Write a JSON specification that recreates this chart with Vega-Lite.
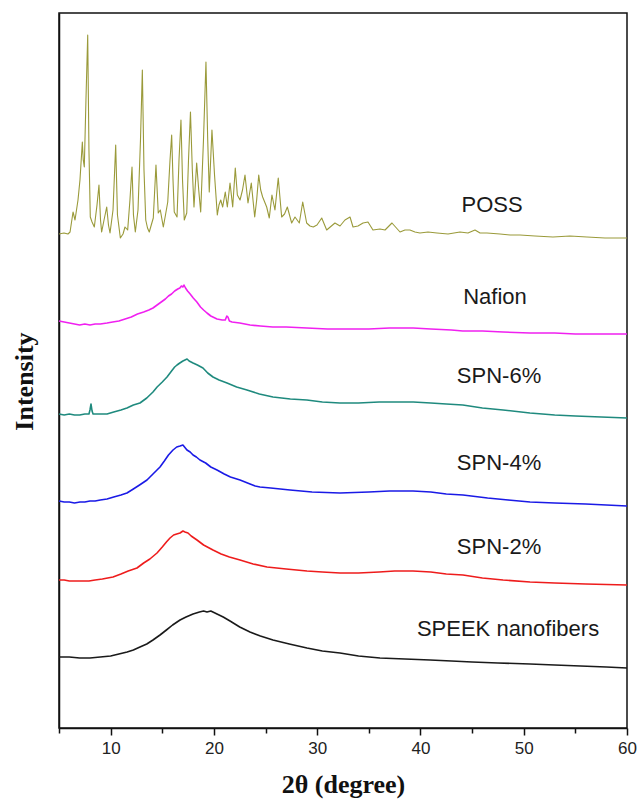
{
  "$schema": "https://vega.github.io/schema/vega-lite/v6.json",
  "width": 568,
  "height": 715,
  "autosize": "none",
  "padding": {"left": 59, "top": 13, "right": 10, "bottom": 73},
  "background": "white",
  "config": {
    "view": {"stroke": "#111111", "strokeWidth": 1.5},
    "axis": {"grid": false}
  },
  "datasets": {
    "xrd": [
      {"sample": "POSS", "two_theta": 5.0, "intensity": 473},
      {"sample": "POSS", "two_theta": 5.48, "intensity": 474},
      {"sample": "POSS", "two_theta": 5.87, "intensity": 473},
      {"sample": "POSS", "two_theta": 6.07, "intensity": 475},
      {"sample": "POSS", "two_theta": 6.36, "intensity": 495},
      {"sample": "POSS", "two_theta": 6.55, "intensity": 487},
      {"sample": "POSS", "two_theta": 6.84, "intensity": 507},
      {"sample": "POSS", "two_theta": 7.03, "intensity": 527},
      {"sample": "POSS", "two_theta": 7.26, "intensity": 565},
      {"sample": "POSS", "two_theta": 7.35, "intensity": 547},
      {"sample": "POSS", "two_theta": 7.45, "intensity": 540},
      {"sample": "POSS", "two_theta": 7.61, "intensity": 607},
      {"sample": "POSS", "two_theta": 7.78, "intensity": 672},
      {"sample": "POSS", "two_theta": 7.90, "intensity": 557},
      {"sample": "POSS", "two_theta": 8.03, "intensity": 490},
      {"sample": "POSS", "two_theta": 8.20, "intensity": 485},
      {"sample": "POSS", "two_theta": 8.42, "intensity": 480},
      {"sample": "POSS", "two_theta": 8.68, "intensity": 502},
      {"sample": "POSS", "two_theta": 8.87, "intensity": 522},
      {"sample": "POSS", "two_theta": 9.02, "intensity": 487},
      {"sample": "POSS", "two_theta": 9.13, "intensity": 475},
      {"sample": "POSS", "two_theta": 9.36, "intensity": 487},
      {"sample": "POSS", "two_theta": 9.62, "intensity": 500},
      {"sample": "POSS", "two_theta": 9.79, "intensity": 482},
      {"sample": "POSS", "two_theta": 9.94, "intensity": 474},
      {"sample": "POSS", "two_theta": 10.23, "intensity": 497},
      {"sample": "POSS", "two_theta": 10.49, "intensity": 562},
      {"sample": "POSS", "two_theta": 10.66, "intensity": 492},
      {"sample": "POSS", "two_theta": 10.94, "intensity": 469},
      {"sample": "POSS", "two_theta": 11.20, "intensity": 473},
      {"sample": "POSS", "two_theta": 11.39, "intensity": 480},
      {"sample": "POSS", "two_theta": 11.65, "intensity": 477},
      {"sample": "POSS", "two_theta": 11.87, "intensity": 507},
      {"sample": "POSS", "two_theta": 12.07, "intensity": 540},
      {"sample": "POSS", "two_theta": 12.21, "intensity": 492},
      {"sample": "POSS", "two_theta": 12.39, "intensity": 475},
      {"sample": "POSS", "two_theta": 12.65, "intensity": 497},
      {"sample": "POSS", "two_theta": 12.89, "intensity": 567},
      {"sample": "POSS", "two_theta": 13.07, "intensity": 637},
      {"sample": "POSS", "two_theta": 13.23, "intensity": 537},
      {"sample": "POSS", "two_theta": 13.40, "intensity": 487},
      {"sample": "POSS", "two_theta": 13.57, "intensity": 479},
      {"sample": "POSS", "two_theta": 13.74, "intensity": 475},
      {"sample": "POSS", "two_theta": 14.13, "intensity": 489},
      {"sample": "POSS", "two_theta": 14.39, "intensity": 542},
      {"sample": "POSS", "two_theta": 14.61, "intensity": 494},
      {"sample": "POSS", "two_theta": 14.81, "intensity": 497},
      {"sample": "POSS", "two_theta": 15.10, "intensity": 480},
      {"sample": "POSS", "two_theta": 15.31, "intensity": 492},
      {"sample": "POSS", "two_theta": 15.53, "intensity": 505},
      {"sample": "POSS", "two_theta": 15.75, "intensity": 547},
      {"sample": "POSS", "two_theta": 15.91, "intensity": 572},
      {"sample": "POSS", "two_theta": 16.04, "intensity": 527},
      {"sample": "POSS", "two_theta": 16.16, "intensity": 495},
      {"sample": "POSS", "two_theta": 16.43, "intensity": 490},
      {"sample": "POSS", "two_theta": 16.62, "intensity": 547},
      {"sample": "POSS", "two_theta": 16.81, "intensity": 587},
      {"sample": "POSS", "two_theta": 16.96, "intensity": 527},
      {"sample": "POSS", "two_theta": 17.13, "intensity": 487},
      {"sample": "POSS", "two_theta": 17.37, "intensity": 494},
      {"sample": "POSS", "two_theta": 17.54, "intensity": 547},
      {"sample": "POSS", "two_theta": 17.73, "intensity": 595},
      {"sample": "POSS", "two_theta": 17.91, "intensity": 537},
      {"sample": "POSS", "two_theta": 18.07, "intensity": 500},
      {"sample": "POSS", "two_theta": 18.33, "intensity": 544},
      {"sample": "POSS", "two_theta": 18.53, "intensity": 517},
      {"sample": "POSS", "two_theta": 18.72, "intensity": 495},
      {"sample": "POSS", "two_theta": 18.99, "intensity": 567},
      {"sample": "POSS", "two_theta": 19.23, "intensity": 645},
      {"sample": "POSS", "two_theta": 19.40, "intensity": 567},
      {"sample": "POSS", "two_theta": 19.55, "intensity": 515},
      {"sample": "POSS", "two_theta": 19.81, "intensity": 577},
      {"sample": "POSS", "two_theta": 20.06, "intensity": 532},
      {"sample": "POSS", "two_theta": 20.33, "intensity": 492},
      {"sample": "POSS", "two_theta": 20.49, "intensity": 502},
      {"sample": "POSS", "two_theta": 20.66, "intensity": 507},
      {"sample": "POSS", "two_theta": 20.85, "intensity": 500},
      {"sample": "POSS", "two_theta": 21.10, "intensity": 515},
      {"sample": "POSS", "two_theta": 21.30, "intensity": 500},
      {"sample": "POSS", "two_theta": 21.56, "intensity": 524},
      {"sample": "POSS", "two_theta": 21.82, "intensity": 500},
      {"sample": "POSS", "two_theta": 22.07, "intensity": 539},
      {"sample": "POSS", "two_theta": 22.27, "intensity": 512},
      {"sample": "POSS", "two_theta": 22.53, "intensity": 507},
      {"sample": "POSS", "two_theta": 22.77, "intensity": 517},
      {"sample": "POSS", "two_theta": 23.01, "intensity": 532},
      {"sample": "POSS", "two_theta": 23.30, "intensity": 504},
      {"sample": "POSS", "two_theta": 23.62, "intensity": 524},
      {"sample": "POSS", "two_theta": 23.95, "intensity": 490},
      {"sample": "POSS", "two_theta": 24.14, "intensity": 507},
      {"sample": "POSS", "two_theta": 24.34, "intensity": 532},
      {"sample": "POSS", "two_theta": 24.53, "intensity": 517},
      {"sample": "POSS", "two_theta": 24.72, "intensity": 510},
      {"sample": "POSS", "two_theta": 25.11, "intensity": 500},
      {"sample": "POSS", "two_theta": 25.36, "intensity": 489},
      {"sample": "POSS", "two_theta": 25.62, "intensity": 512},
      {"sample": "POSS", "two_theta": 25.91, "intensity": 497},
      {"sample": "POSS", "two_theta": 26.23, "intensity": 529},
      {"sample": "POSS", "two_theta": 26.56, "intensity": 490},
      {"sample": "POSS", "two_theta": 26.84, "intensity": 493},
      {"sample": "POSS", "two_theta": 27.11, "intensity": 500},
      {"sample": "POSS", "two_theta": 27.53, "intensity": 484},
      {"sample": "POSS", "two_theta": 27.85, "intensity": 490},
      {"sample": "POSS", "two_theta": 28.27, "intensity": 484},
      {"sample": "POSS", "two_theta": 28.60, "intensity": 505},
      {"sample": "POSS", "two_theta": 28.98, "intensity": 484},
      {"sample": "POSS", "two_theta": 29.30, "intensity": 481},
      {"sample": "POSS", "two_theta": 29.62, "intensity": 480},
      {"sample": "POSS", "two_theta": 29.98, "intensity": 482},
      {"sample": "POSS", "two_theta": 30.44, "intensity": 489},
      {"sample": "POSS", "two_theta": 30.92, "intensity": 477},
      {"sample": "POSS", "two_theta": 31.72, "intensity": 484},
      {"sample": "POSS", "two_theta": 32.21, "intensity": 481},
      {"sample": "POSS", "two_theta": 32.69, "intensity": 487},
      {"sample": "POSS", "two_theta": 33.18, "intensity": 490},
      {"sample": "POSS", "two_theta": 33.47, "intensity": 480},
      {"sample": "POSS", "two_theta": 33.95, "intensity": 481},
      {"sample": "POSS", "two_theta": 34.44, "intensity": 484},
      {"sample": "POSS", "two_theta": 34.92, "intensity": 485},
      {"sample": "POSS", "two_theta": 35.40, "intensity": 477},
      {"sample": "POSS", "two_theta": 36.08, "intensity": 478},
      {"sample": "POSS", "two_theta": 36.57, "intensity": 477},
      {"sample": "POSS", "two_theta": 37.24, "intensity": 484},
      {"sample": "POSS", "two_theta": 38.02, "intensity": 475},
      {"sample": "POSS", "two_theta": 38.50, "intensity": 477},
      {"sample": "POSS", "two_theta": 38.98, "intensity": 477},
      {"sample": "POSS", "two_theta": 39.47, "intensity": 475},
      {"sample": "POSS", "two_theta": 39.95, "intensity": 474},
      {"sample": "POSS", "two_theta": 40.73, "intensity": 475},
      {"sample": "POSS", "two_theta": 41.60, "intensity": 474},
      {"sample": "POSS", "two_theta": 42.67, "intensity": 473},
      {"sample": "POSS", "two_theta": 43.83, "intensity": 475},
      {"sample": "POSS", "two_theta": 44.60, "intensity": 474},
      {"sample": "POSS", "two_theta": 45.28, "intensity": 477},
      {"sample": "POSS", "two_theta": 45.77, "intensity": 474},
      {"sample": "POSS", "two_theta": 46.44, "intensity": 474},
      {"sample": "POSS", "two_theta": 47.70, "intensity": 473},
      {"sample": "POSS", "two_theta": 48.67, "intensity": 472},
      {"sample": "POSS", "two_theta": 49.64, "intensity": 472},
      {"sample": "POSS", "two_theta": 51.09, "intensity": 471},
      {"sample": "POSS", "two_theta": 52.83, "intensity": 470},
      {"sample": "POSS", "two_theta": 54.48, "intensity": 471},
      {"sample": "POSS", "two_theta": 56.12, "intensity": 470},
      {"sample": "POSS", "two_theta": 57.87, "intensity": 469},
      {"sample": "POSS", "two_theta": 60.0, "intensity": 469},

      {"sample": "Nafion", "two_theta": 5.0, "intensity": 386},
      {"sample": "Nafion", "two_theta": 5.5, "intensity": 385},
      {"sample": "Nafion", "two_theta": 6.0, "intensity": 384},
      {"sample": "Nafion", "two_theta": 6.5, "intensity": 383},
      {"sample": "Nafion", "two_theta": 7.0, "intensity": 382},
      {"sample": "Nafion", "two_theta": 7.5, "intensity": 383},
      {"sample": "Nafion", "two_theta": 8.0, "intensity": 382},
      {"sample": "Nafion", "two_theta": 8.5, "intensity": 383},
      {"sample": "Nafion", "two_theta": 9.0, "intensity": 383},
      {"sample": "Nafion", "two_theta": 9.65, "intensity": 384},
      {"sample": "Nafion", "two_theta": 10.2, "intensity": 385},
      {"sample": "Nafion", "two_theta": 10.8, "intensity": 386},
      {"sample": "Nafion", "two_theta": 11.4, "intensity": 388},
      {"sample": "Nafion", "two_theta": 12.0, "intensity": 390},
      {"sample": "Nafion", "two_theta": 12.6, "intensity": 393},
      {"sample": "Nafion", "two_theta": 13.2, "intensity": 395},
      {"sample": "Nafion", "two_theta": 13.7, "intensity": 397},
      {"sample": "Nafion", "two_theta": 14.1, "intensity": 399},
      {"sample": "Nafion", "two_theta": 14.5, "intensity": 402},
      {"sample": "Nafion", "two_theta": 14.9, "intensity": 405},
      {"sample": "Nafion", "two_theta": 15.3, "intensity": 408},
      {"sample": "Nafion", "two_theta": 15.6, "intensity": 411},
      {"sample": "Nafion", "two_theta": 15.9, "intensity": 413},
      {"sample": "Nafion", "two_theta": 16.2, "intensity": 416},
      {"sample": "Nafion", "two_theta": 16.5, "intensity": 418},
      {"sample": "Nafion", "two_theta": 16.7, "intensity": 419},
      {"sample": "Nafion", "two_theta": 16.85, "intensity": 421},
      {"sample": "Nafion", "two_theta": 17.0, "intensity": 420},
      {"sample": "Nafion", "two_theta": 17.1, "intensity": 422},
      {"sample": "Nafion", "two_theta": 17.25, "intensity": 419},
      {"sample": "Nafion", "two_theta": 17.45, "intensity": 416},
      {"sample": "Nafion", "two_theta": 17.7, "intensity": 413},
      {"sample": "Nafion", "two_theta": 18.0, "intensity": 409},
      {"sample": "Nafion", "two_theta": 18.35, "intensity": 405},
      {"sample": "Nafion", "two_theta": 18.7, "intensity": 400},
      {"sample": "Nafion", "two_theta": 19.0, "intensity": 397},
      {"sample": "Nafion", "two_theta": 19.33, "intensity": 394},
      {"sample": "Nafion", "two_theta": 19.7, "intensity": 391},
      {"sample": "Nafion", "two_theta": 20.3, "intensity": 388},
      {"sample": "Nafion", "two_theta": 20.8, "intensity": 387},
      {"sample": "Nafion", "two_theta": 21.1, "intensity": 387},
      {"sample": "Nafion", "two_theta": 21.25, "intensity": 391},
      {"sample": "Nafion", "two_theta": 21.36, "intensity": 390},
      {"sample": "Nafion", "two_theta": 21.5, "intensity": 386},
      {"sample": "Nafion", "two_theta": 21.75, "intensity": 385},
      {"sample": "Nafion", "two_theta": 22.5, "intensity": 384},
      {"sample": "Nafion", "two_theta": 23.5, "intensity": 382},
      {"sample": "Nafion", "two_theta": 24.5, "intensity": 381},
      {"sample": "Nafion", "two_theta": 25.7, "intensity": 380},
      {"sample": "Nafion", "two_theta": 27.0, "intensity": 380},
      {"sample": "Nafion", "two_theta": 29.0, "intensity": 379},
      {"sample": "Nafion", "two_theta": 31.0, "intensity": 378},
      {"sample": "Nafion", "two_theta": 33.0, "intensity": 378},
      {"sample": "Nafion", "two_theta": 35.0, "intensity": 378},
      {"sample": "Nafion", "two_theta": 37.0, "intensity": 379},
      {"sample": "Nafion", "two_theta": 39.3, "intensity": 379},
      {"sample": "Nafion", "two_theta": 41.0, "intensity": 378},
      {"sample": "Nafion", "two_theta": 43.0, "intensity": 377},
      {"sample": "Nafion", "two_theta": 44.1, "intensity": 376},
      {"sample": "Nafion", "two_theta": 46.0, "intensity": 376},
      {"sample": "Nafion", "two_theta": 48.0, "intensity": 375},
      {"sample": "Nafion", "two_theta": 50.6, "intensity": 374},
      {"sample": "Nafion", "two_theta": 53.0, "intensity": 374},
      {"sample": "Nafion", "two_theta": 55.0, "intensity": 373},
      {"sample": "Nafion", "two_theta": 57.0, "intensity": 373},
      {"sample": "Nafion", "two_theta": 60.0, "intensity": 373},

      {"sample": "SPN-6%", "two_theta": 5.0, "intensity": 293},
      {"sample": "SPN-6%", "two_theta": 5.5, "intensity": 292},
      {"sample": "SPN-6%", "two_theta": 6.0, "intensity": 293},
      {"sample": "SPN-6%", "two_theta": 6.5, "intensity": 292},
      {"sample": "SPN-6%", "two_theta": 7.0, "intensity": 292},
      {"sample": "SPN-6%", "two_theta": 7.5, "intensity": 293},
      {"sample": "SPN-6%", "two_theta": 7.9, "intensity": 293},
      {"sample": "SPN-6%", "two_theta": 8.0, "intensity": 297},
      {"sample": "SPN-6%", "two_theta": 8.1, "intensity": 303},
      {"sample": "SPN-6%", "two_theta": 8.2, "intensity": 296},
      {"sample": "SPN-6%", "two_theta": 8.3, "intensity": 293},
      {"sample": "SPN-6%", "two_theta": 9.0, "intensity": 293},
      {"sample": "SPN-6%", "two_theta": 9.65, "intensity": 293},
      {"sample": "SPN-6%", "two_theta": 10.3, "intensity": 295},
      {"sample": "SPN-6%", "two_theta": 11.0, "intensity": 297},
      {"sample": "SPN-6%", "two_theta": 11.58, "intensity": 299},
      {"sample": "SPN-6%", "two_theta": 12.2, "intensity": 302},
      {"sample": "SPN-6%", "two_theta": 12.84, "intensity": 304},
      {"sample": "SPN-6%", "two_theta": 13.5, "intensity": 309},
      {"sample": "SPN-6%", "two_theta": 14.1, "intensity": 315},
      {"sample": "SPN-6%", "two_theta": 14.5, "intensity": 320},
      {"sample": "SPN-6%", "two_theta": 15.0, "intensity": 325},
      {"sample": "SPN-6%", "two_theta": 15.46, "intensity": 330},
      {"sample": "SPN-6%", "two_theta": 15.9, "intensity": 336},
      {"sample": "SPN-6%", "two_theta": 16.2, "intensity": 340},
      {"sample": "SPN-6%", "two_theta": 16.43, "intensity": 342},
      {"sample": "SPN-6%", "two_theta": 16.7, "intensity": 344},
      {"sample": "SPN-6%", "two_theta": 17.0, "intensity": 346},
      {"sample": "SPN-6%", "two_theta": 17.2, "intensity": 347},
      {"sample": "SPN-6%", "two_theta": 17.4, "intensity": 348},
      {"sample": "SPN-6%", "two_theta": 17.6, "intensity": 346},
      {"sample": "SPN-6%", "two_theta": 17.98, "intensity": 344},
      {"sample": "SPN-6%", "two_theta": 18.4, "intensity": 342},
      {"sample": "SPN-6%", "two_theta": 18.94, "intensity": 339},
      {"sample": "SPN-6%", "two_theta": 19.4, "intensity": 334},
      {"sample": "SPN-6%", "two_theta": 19.91, "intensity": 330},
      {"sample": "SPN-6%", "two_theta": 20.5, "intensity": 327},
      {"sample": "SPN-6%", "two_theta": 21.27, "intensity": 324},
      {"sample": "SPN-6%", "two_theta": 22.2, "intensity": 320},
      {"sample": "SPN-6%", "two_theta": 23.2, "intensity": 317},
      {"sample": "SPN-6%", "two_theta": 24.4, "intensity": 313},
      {"sample": "SPN-6%", "two_theta": 25.72, "intensity": 310},
      {"sample": "SPN-6%", "two_theta": 27.4, "intensity": 308},
      {"sample": "SPN-6%", "two_theta": 29.0, "intensity": 307},
      {"sample": "SPN-6%", "two_theta": 30.5, "intensity": 305},
      {"sample": "SPN-6%", "two_theta": 32.2, "intensity": 304},
      {"sample": "SPN-6%", "two_theta": 34.0, "intensity": 304},
      {"sample": "SPN-6%", "two_theta": 36.0, "intensity": 305},
      {"sample": "SPN-6%", "two_theta": 38.0, "intensity": 305},
      {"sample": "SPN-6%", "two_theta": 39.3, "intensity": 305},
      {"sample": "SPN-6%", "two_theta": 41.0, "intensity": 304},
      {"sample": "SPN-6%", "two_theta": 42.5, "intensity": 303},
      {"sample": "SPN-6%", "two_theta": 44.1, "intensity": 302},
      {"sample": "SPN-6%", "two_theta": 46.0, "intensity": 299},
      {"sample": "SPN-6%", "two_theta": 48.0, "intensity": 297},
      {"sample": "SPN-6%", "two_theta": 50.6, "intensity": 294},
      {"sample": "SPN-6%", "two_theta": 53.0, "intensity": 292},
      {"sample": "SPN-6%", "two_theta": 55.0, "intensity": 291},
      {"sample": "SPN-6%", "two_theta": 57.5, "intensity": 290},
      {"sample": "SPN-6%", "two_theta": 60.0, "intensity": 289},

      {"sample": "SPN-4%", "two_theta": 5.0, "intensity": 206},
      {"sample": "SPN-4%", "two_theta": 5.5, "intensity": 205},
      {"sample": "SPN-4%", "two_theta": 6.0, "intensity": 205},
      {"sample": "SPN-4%", "two_theta": 6.5, "intensity": 204},
      {"sample": "SPN-4%", "two_theta": 7.03, "intensity": 205},
      {"sample": "SPN-4%", "two_theta": 7.5, "intensity": 205},
      {"sample": "SPN-4%", "two_theta": 8.0, "intensity": 206},
      {"sample": "SPN-4%", "two_theta": 8.5, "intensity": 206},
      {"sample": "SPN-4%", "two_theta": 9.0, "intensity": 207},
      {"sample": "SPN-4%", "two_theta": 9.65, "intensity": 208},
      {"sample": "SPN-4%", "two_theta": 10.3, "intensity": 210},
      {"sample": "SPN-4%", "two_theta": 11.0, "intensity": 212},
      {"sample": "SPN-4%", "two_theta": 11.58, "intensity": 214},
      {"sample": "SPN-4%", "two_theta": 12.2, "intensity": 218},
      {"sample": "SPN-4%", "two_theta": 12.8, "intensity": 222},
      {"sample": "SPN-4%", "two_theta": 13.52, "intensity": 227},
      {"sample": "SPN-4%", "two_theta": 14.1, "intensity": 233},
      {"sample": "SPN-4%", "two_theta": 14.78, "intensity": 240},
      {"sample": "SPN-4%", "two_theta": 15.2, "intensity": 246},
      {"sample": "SPN-4%", "two_theta": 15.6, "intensity": 252},
      {"sample": "SPN-4%", "two_theta": 16.04, "intensity": 257},
      {"sample": "SPN-4%", "two_theta": 16.4, "intensity": 260},
      {"sample": "SPN-4%", "two_theta": 16.72, "intensity": 261},
      {"sample": "SPN-4%", "two_theta": 17.0, "intensity": 262},
      {"sample": "SPN-4%", "two_theta": 17.39, "intensity": 257},
      {"sample": "SPN-4%", "two_theta": 17.7, "intensity": 255},
      {"sample": "SPN-4%", "two_theta": 17.98, "intensity": 252},
      {"sample": "SPN-4%", "two_theta": 18.3, "intensity": 250},
      {"sample": "SPN-4%", "two_theta": 18.65, "intensity": 247},
      {"sample": "SPN-4%", "two_theta": 19.2, "intensity": 244},
      {"sample": "SPN-4%", "two_theta": 19.7, "intensity": 240},
      {"sample": "SPN-4%", "two_theta": 20.3, "intensity": 237},
      {"sample": "SPN-4%", "two_theta": 21.0, "intensity": 233},
      {"sample": "SPN-4%", "two_theta": 21.6, "intensity": 230},
      {"sample": "SPN-4%", "two_theta": 22.53, "intensity": 227},
      {"sample": "SPN-4%", "two_theta": 23.5, "intensity": 223},
      {"sample": "SPN-4%", "two_theta": 24.0, "intensity": 221},
      {"sample": "SPN-4%", "two_theta": 24.46, "intensity": 220},
      {"sample": "SPN-4%", "two_theta": 25.5, "intensity": 219},
      {"sample": "SPN-4%", "two_theta": 27.37, "intensity": 217},
      {"sample": "SPN-4%", "two_theta": 29.5, "intensity": 215},
      {"sample": "SPN-4%", "two_theta": 32.21, "intensity": 214},
      {"sample": "SPN-4%", "two_theta": 35.0, "intensity": 215},
      {"sample": "SPN-4%", "two_theta": 37.0, "intensity": 216},
      {"sample": "SPN-4%", "two_theta": 39.28, "intensity": 216},
      {"sample": "SPN-4%", "two_theta": 41.0, "intensity": 215},
      {"sample": "SPN-4%", "two_theta": 42.5, "intensity": 213},
      {"sample": "SPN-4%", "two_theta": 44.12, "intensity": 212},
      {"sample": "SPN-4%", "two_theta": 46.5, "intensity": 209},
      {"sample": "SPN-4%", "two_theta": 48.5, "intensity": 207},
      {"sample": "SPN-4%", "two_theta": 50.61, "intensity": 205},
      {"sample": "SPN-4%", "two_theta": 53.0, "intensity": 204},
      {"sample": "SPN-4%", "two_theta": 56.0, "intensity": 203},
      {"sample": "SPN-4%", "two_theta": 60.0, "intensity": 201},

      {"sample": "SPN-2%", "two_theta": 5.0, "intensity": 127},
      {"sample": "SPN-2%", "two_theta": 5.5, "intensity": 127},
      {"sample": "SPN-2%", "two_theta": 6.0, "intensity": 126},
      {"sample": "SPN-2%", "two_theta": 6.5, "intensity": 126},
      {"sample": "SPN-2%", "two_theta": 7.0, "intensity": 126},
      {"sample": "SPN-2%", "two_theta": 7.9, "intensity": 126},
      {"sample": "SPN-2%", "two_theta": 8.5, "intensity": 127},
      {"sample": "SPN-2%", "two_theta": 9.2, "intensity": 128},
      {"sample": "SPN-2%", "two_theta": 10.23, "intensity": 130},
      {"sample": "SPN-2%", "two_theta": 11.0, "intensity": 133},
      {"sample": "SPN-2%", "two_theta": 11.7, "intensity": 136},
      {"sample": "SPN-2%", "two_theta": 12.55, "intensity": 139},
      {"sample": "SPN-2%", "two_theta": 13.2, "intensity": 144},
      {"sample": "SPN-2%", "two_theta": 13.8, "intensity": 148},
      {"sample": "SPN-2%", "two_theta": 14.49, "intensity": 154},
      {"sample": "SPN-2%", "two_theta": 15.0, "intensity": 160},
      {"sample": "SPN-2%", "two_theta": 15.4, "intensity": 165},
      {"sample": "SPN-2%", "two_theta": 15.75, "intensity": 169},
      {"sample": "SPN-2%", "two_theta": 16.1, "intensity": 172},
      {"sample": "SPN-2%", "two_theta": 16.4, "intensity": 173},
      {"sample": "SPN-2%", "two_theta": 16.72, "intensity": 174},
      {"sample": "SPN-2%", "two_theta": 17.0, "intensity": 176},
      {"sample": "SPN-2%", "two_theta": 17.2, "intensity": 175},
      {"sample": "SPN-2%", "two_theta": 17.49, "intensity": 174},
      {"sample": "SPN-2%", "two_theta": 17.8, "intensity": 171},
      {"sample": "SPN-2%", "two_theta": 18.36, "intensity": 167},
      {"sample": "SPN-2%", "two_theta": 19.0, "intensity": 162},
      {"sample": "SPN-2%", "two_theta": 19.91, "intensity": 157},
      {"sample": "SPN-2%", "two_theta": 20.7, "intensity": 153},
      {"sample": "SPN-2%", "two_theta": 21.5, "intensity": 150},
      {"sample": "SPN-2%", "two_theta": 22.53, "intensity": 147},
      {"sample": "SPN-2%", "two_theta": 23.8, "intensity": 143},
      {"sample": "SPN-2%", "two_theta": 25.14, "intensity": 140},
      {"sample": "SPN-2%", "two_theta": 27.0, "intensity": 138},
      {"sample": "SPN-2%", "two_theta": 29.01, "intensity": 136},
      {"sample": "SPN-2%", "two_theta": 30.5, "intensity": 135},
      {"sample": "SPN-2%", "two_theta": 32.21, "intensity": 134},
      {"sample": "SPN-2%", "two_theta": 34.0, "intensity": 134},
      {"sample": "SPN-2%", "two_theta": 36.0, "intensity": 135},
      {"sample": "SPN-2%", "two_theta": 37.5, "intensity": 136},
      {"sample": "SPN-2%", "two_theta": 39.28, "intensity": 136},
      {"sample": "SPN-2%", "two_theta": 41.0, "intensity": 135},
      {"sample": "SPN-2%", "two_theta": 42.5, "intensity": 133},
      {"sample": "SPN-2%", "two_theta": 44.12, "intensity": 132},
      {"sample": "SPN-2%", "two_theta": 46.0, "intensity": 129},
      {"sample": "SPN-2%", "two_theta": 48.0, "intensity": 127},
      {"sample": "SPN-2%", "two_theta": 50.61, "intensity": 125},
      {"sample": "SPN-2%", "two_theta": 53.0, "intensity": 124},
      {"sample": "SPN-2%", "two_theta": 56.0, "intensity": 123},
      {"sample": "SPN-2%", "two_theta": 60.0, "intensity": 122},

      {"sample": "SPEEK nanofibers", "two_theta": 5.0, "intensity": 50},
      {"sample": "SPEEK nanofibers", "two_theta": 6.0, "intensity": 50},
      {"sample": "SPEEK nanofibers", "two_theta": 7.0, "intensity": 49},
      {"sample": "SPEEK nanofibers", "two_theta": 8.0, "intensity": 49},
      {"sample": "SPEEK nanofibers", "two_theta": 9.0, "intensity": 50},
      {"sample": "SPEEK nanofibers", "two_theta": 10.0, "intensity": 51},
      {"sample": "SPEEK nanofibers", "two_theta": 10.8, "intensity": 53},
      {"sample": "SPEEK nanofibers", "two_theta": 11.6, "intensity": 55},
      {"sample": "SPEEK nanofibers", "two_theta": 12.2, "intensity": 57},
      {"sample": "SPEEK nanofibers", "two_theta": 12.84, "intensity": 60},
      {"sample": "SPEEK nanofibers", "two_theta": 13.5, "intensity": 63},
      {"sample": "SPEEK nanofibers", "two_theta": 14.1, "intensity": 67},
      {"sample": "SPEEK nanofibers", "two_theta": 14.78, "intensity": 72},
      {"sample": "SPEEK nanofibers", "two_theta": 15.4, "intensity": 77},
      {"sample": "SPEEK nanofibers", "two_theta": 16.0, "intensity": 82},
      {"sample": "SPEEK nanofibers", "two_theta": 16.72, "intensity": 87},
      {"sample": "SPEEK nanofibers", "two_theta": 17.3, "intensity": 90},
      {"sample": "SPEEK nanofibers", "two_theta": 17.98, "intensity": 93},
      {"sample": "SPEEK nanofibers", "two_theta": 18.6, "intensity": 95},
      {"sample": "SPEEK nanofibers", "two_theta": 19.0, "intensity": 96},
      {"sample": "SPEEK nanofibers", "two_theta": 19.33, "intensity": 95},
      {"sample": "SPEEK nanofibers", "two_theta": 19.7, "intensity": 96},
      {"sample": "SPEEK nanofibers", "two_theta": 20.3, "intensity": 93},
      {"sample": "SPEEK nanofibers", "two_theta": 20.9, "intensity": 90},
      {"sample": "SPEEK nanofibers", "two_theta": 21.56, "intensity": 86},
      {"sample": "SPEEK nanofibers", "two_theta": 22.5, "intensity": 80},
      {"sample": "SPEEK nanofibers", "two_theta": 23.49, "intensity": 75},
      {"sample": "SPEEK nanofibers", "two_theta": 24.5, "intensity": 71},
      {"sample": "SPEEK nanofibers", "two_theta": 25.72, "intensity": 67},
      {"sample": "SPEEK nanofibers", "two_theta": 27.3, "intensity": 63},
      {"sample": "SPEEK nanofibers", "two_theta": 29.01, "intensity": 59},
      {"sample": "SPEEK nanofibers", "two_theta": 30.5, "intensity": 56},
      {"sample": "SPEEK nanofibers", "two_theta": 32.21, "intensity": 54},
      {"sample": "SPEEK nanofibers", "two_theta": 34.0, "intensity": 51},
      {"sample": "SPEEK nanofibers", "two_theta": 36.08, "intensity": 49},
      {"sample": "SPEEK nanofibers", "two_theta": 38.5, "intensity": 48},
      {"sample": "SPEEK nanofibers", "two_theta": 40.93, "intensity": 47},
      {"sample": "SPEEK nanofibers", "two_theta": 43.0, "intensity": 46},
      {"sample": "SPEEK nanofibers", "two_theta": 45.0, "intensity": 45},
      {"sample": "SPEEK nanofibers", "two_theta": 47.5, "intensity": 44},
      {"sample": "SPEEK nanofibers", "two_theta": 50.61, "intensity": 43},
      {"sample": "SPEEK nanofibers", "two_theta": 53.0, "intensity": 42},
      {"sample": "SPEEK nanofibers", "two_theta": 55.5, "intensity": 41},
      {"sample": "SPEEK nanofibers", "two_theta": 58.0, "intensity": 40},
      {"sample": "SPEEK nanofibers", "two_theta": 60.0, "intensity": 39}
    ],
    "labels": [
      {"sample": "POSS", "two_theta": 46.93, "intensity": 502},
      {"sample": "Nafion", "two_theta": 47.22, "intensity": 410},
      {"sample": "SPN-6%", "two_theta": 47.61, "intensity": 331},
      {"sample": "SPN-4%", "two_theta": 47.61, "intensity": 244},
      {"sample": "SPN-2%", "two_theta": 47.61, "intensity": 160},
      {"sample": "SPEEK nanofibers", "two_theta": 48.48, "intensity": 78}
    ]
  },
  "layer": [
    {
      "data": {"name": "xrd"},
      "mark": {"type": "line", "strokeJoin": "round"},
      "encoding": {
        "x": {
          "field": "two_theta",
          "type": "quantitative",
          "scale": {"domain": [5, 60], "nice": false, "zero": false},
          "axis": {
            "values": [5, 10, 15, 20, 25, 30, 35, 40, 45, 50, 55, 60],
            "labelExpr": "datum.value % 10 === 0 ? datum.label : ''",
            "tickSize": {"condition": {"test": "datum.value % 10 === 0", "value": 7}, "value": 5},
            "tickColor": "#111111",
            "tickWidth": 1.5,
            "domainColor": "#111111",
            "domainWidth": 1.5,
            "labelFont": "Liberation Sans",
            "labelFontSize": 17,
            "labelColor": "#222222",
            "labelPadding": 5,
            "labelFlush": false,
            "title": "2θ (degree)",
            "titleFont": "Liberation Serif",
            "titleFontSize": 26,
            "titleFontWeight": "bold",
            "titleColor": "#111111",
            "titlePadding": 15
          }
        },
        "y": {
          "field": "intensity",
          "type": "quantitative",
          "scale": {"domain": [-21, 694], "nice": false, "zero": false},
          "axis": {
            "labels": false,
            "ticks": false,
            "domainColor": "#111111",
            "domainWidth": 1.5,
            "title": "Intensity",
            "titleFont": "Liberation Serif",
            "titleFontSize": 26,
            "titleFontWeight": "bold",
            "titleColor": "#111111",
            "titlePadding": 22,
            "titleY": 368
          }
        },
        "color": {
          "field": "sample",
          "type": "nominal",
          "scale": {
            "domain": ["POSS", "Nafion", "SPN-6%", "SPN-4%", "SPN-2%", "SPEEK nanofibers"],
            "range": ["#9a9a3a", "#f020f0", "#1f8a7e", "#1a1ae6", "#ee1c1c", "#1a1a1a"]
          },
          "legend": null
        },
        "strokeWidth": {
          "condition": {"test": "datum.sample === 'POSS'", "value": 1.1},
          "value": 1.6
        }
      }
    },
    {
      "data": {"name": "labels"},
      "mark": {
        "type": "text",
        "font": "Liberation Sans",
        "fontSize": 22,
        "color": "#1a1a1a",
        "align": "center",
        "baseline": "middle"
      },
      "encoding": {
        "x": {"field": "two_theta", "type": "quantitative"},
        "y": {"field": "intensity", "type": "quantitative"},
        "text": {"field": "sample"}
      }
    }
  ]
}
